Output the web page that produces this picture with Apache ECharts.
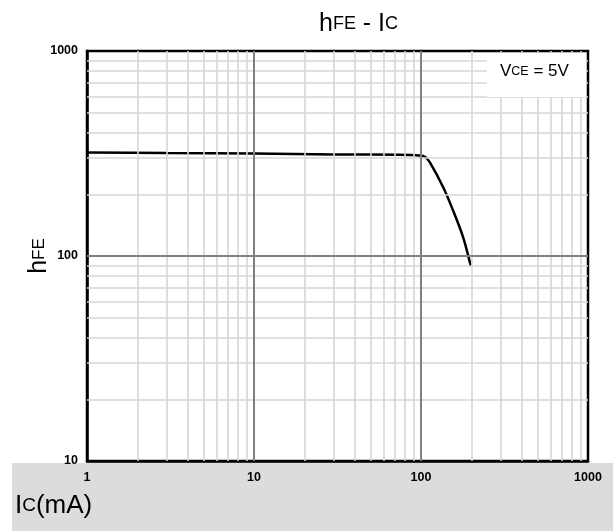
<!DOCTYPE html>
<html>
<head>
<meta charset="utf-8">
<script src="https://cdn.jsdelivr.net/npm/echarts@6/dist/echarts.min.js"></script>
<style>
  html, body { margin: 0; padding: 0; background: #fff; }
  #chart { width: 613px; height: 531px; }
</style>
</head>
<body>
<div id="chart"></div>
<script>
// Ic (mA) / hFE
const icMa = [1, 3, 10, 30, 75, 98, 106, 113, 136, 156, 179, 199];
const hfe = [320, 318, 316, 313, 312, 309, 304, 286, 216, 166, 123, 89];

// grid lines of the log paper
const majorX = [10, 100];
const majorY = [100];
const minorX = [2, 3, 4, 5, 6, 7, 8, 9, 20, 30, 40, 50, 60, 70, 80, 90, 200, 300, 400, 500, 600, 700, 800, 900];
const minorY = [20, 30, 40, 50, 60, 70, 80, 90, 200, 300, 400, 500, 600, 700, 800, 900];

const xTicks = [1, 10, 100, 1000];
const yTicks = [10, 100, 1000];

const FONT = 'Liberation Sans, Arial, sans-serif';

function vLines(list) {
  return list.map(function (v) { return { xAxis: v }; });
}
function hLines(list) {
  return list.map(function (v) { return { yAxis: v }; });
}

function getOption() {
  const labelFont = {
    fontFamily: FONT,
    fontWeight: 'bold',
    fontSize: 12.5,
    color: '#000'
  };
  const option = {
    backgroundColor: '#fff',
    animation: false,
    title: {
      text: '{b|h}{s|FE}{b| - I}{s|C}',
      left: 314,
      top: 7,
      textStyle: {
        fontFamily: FONT,
        fontWeight: 'normal',
        rich: {
          b: { fontSize: 25, color: '#000', fontFamily: FONT },
          s: { fontSize: 18, color: '#000', fontFamily: FONT }
        }
      }
    },
    grid: {
      left: 87,
      right: 25,
      top: 51,
      bottom: 70,
      show: true,
      borderColor: '#000',
      borderWidth: 2.5
    },
    xAxis: {
      type: 'log',
      logBase: 10,
      min: 1,
      max: 1000,
      axisLine: { show: true, lineStyle: { color: '#000', width: 2.5 } },
      axisTick: { show: false },
      splitLine: { show: false },
      axisLabel: Object.assign({ margin: 10, formatter: function (v) { return xTicks.indexOf(v) >= 0 ? String(v) : ''; } }, labelFont)
    },
    yAxis: {
      type: 'log',
      logBase: 10,
      min: 10,
      max: 1000,
      name: '{b|h}{s|FE}',
      nameLocation: 'middle',
      nameRotate: 90,
      nameGap: 35,
      nameMoveOverlap: false,
      nameTextStyle: {
        rich: {
          b: { fontSize: 25, color: '#000', fontFamily: FONT },
          s: { fontSize: 17, color: '#000', fontFamily: FONT }
        }
      },
      axisLine: { show: true, lineStyle: { color: '#000', width: 2.5 } },
      axisTick: { show: false },
      splitLine: { show: false },
      axisLabel: Object.assign({ margin: 9, formatter: function (v) { return yTicks.indexOf(v) >= 0 ? String(v) : ''; } }, labelFont)
    },
    graphic: [
      // grey strip under the plot
      {
        type: 'rect', z: -10, silent: true,
        shape: { x: 12, y: 463, width: 601, height: 68 },
        style: { fill: '#dcdcdc' }
      },
      {
        type: 'text', left: 15, top: 493, z: 100,
        style: {
          text: '{b|I}{s|C}{b|(mA)}',
          rich: {
            b: { fontSize: 26, fill: '#000', fontFamily: FONT },
            s: { fontSize: 19, fill: '#000', fontFamily: FONT }
          }
        }
      },
      // condition box
      {
        type: 'rect', z: 100, silent: true,
        shape: { x: 487, y: 53, width: 99, height: 44 },
        style: { fill: '#fff' }
      },
      {
        type: 'text', left: 500, top: 63, z: 101,
        style: {
          text: '{b|V}{s|CE}{b| = 5V}',
          rich: {
            b: { fontSize: 17, fill: '#000', fontFamily: FONT },
            s: { fontSize: 12.5, fill: '#000', fontFamily: FONT }
          }
        }
      }
    ],
    series: [{
      // minor grid
      type: 'line',
      z: 1,
      silent: true,
      symbol: 'none',
      data: [[1, 10]],
      lineStyle: { opacity: 0 },
      markLine: {
        silent: true,
        symbol: 'none',
        label: { show: false },
        animation: false,
        lineStyle: { color: '#d6d6d6', width: 1.6, type: 'solid' },
        data: vLines(minorX).concat(hLines(minorY))
      }
    }, {
      // decade lines
      type: 'line',
      z: 2,
      silent: true,
      symbol: 'none',
      data: [[1, 10]],
      lineStyle: { opacity: 0 },
      markLine: {
        silent: true,
        symbol: 'none',
        label: { show: false },
        animation: false,
        lineStyle: { color: '#808080', width: 2, type: 'solid' },
        data: vLines(majorX).concat(hLines(majorY))
      }
    }, {
      name: 'hFE',
      type: 'line',
      z: 3,
      smooth: 0.3,
      symbol: 'none',
      lineStyle: { color: '#000', width: 2.5 },
      data: icMa.map(function (x, i) { return [x, hfe[i]]; })
    }]
  };
  return option;
}

const chart = echarts.init(document.getElementById('chart'), null, { renderer: 'canvas' });
chart.setOption(getOption());
</script>
</body>
</html>
